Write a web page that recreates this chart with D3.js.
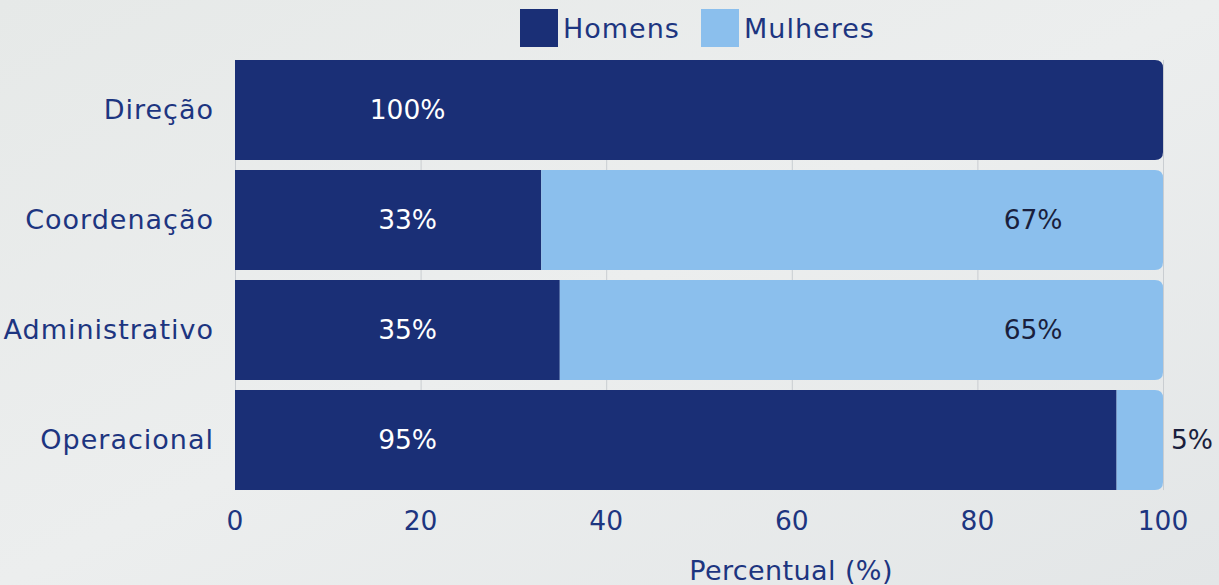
<!DOCTYPE html>
<html lang="pt">
  <head>
    <meta charset="utf-8">
    <title>Percentual por cargo</title>
    <style>
      body { margin: 0; }
      svg { display: block; font-family: "DejaVu Sans", sans-serif; }
    </style>
    <script src="https://d3js.org/d3.v7.min.js"></script>
  </head>
  <body>
    <div class="chart"></div>
    <script>
    const categories = ["Direção", "Coordenação", "Administrativo", "Operacional"]
    const homens = [100, 33, 35, 95]
    const mulheres = [0, 67, 65, 5]
    const series = ["Homens", "Mulheres"]
    const ticks = [0, 20, 40, 60, 80, 100]

    const W = 1219, H = 585
    const margin = { top: 55, left: 235, bottom: 90, right: 56 }
    const navy = "#1a2f76", light = "#8bbfed", textCol = "#1d3580"
    const fs = "27px", fsNum = "26.5px"

    const svg = d3.select(".chart")
      .append("svg")
      .attr("width", W)
      .attr("height", H)

    // background, roughly the marble look
    const defs = svg.append("defs")
    const bg = defs.append("linearGradient").attr("id", "bg")
      .attr("x1", 0).attr("y1", 0).attr("x2", 1).attr("y2", 1)
    bg.append("stop").attr("offset", 0).attr("stop-color", "#e6e9e8")
    bg.append("stop").attr("offset", 0.5).attr("stop-color", "#eceeee")
    bg.append("stop").attr("offset", 1).attr("stop-color", "#e3e6e7")
    svg.append("rect").attr("width", W).attr("height", H).attr("fill", "url(#bg)")

    const x = d3.scaleLinear()
      .domain([0, 100])
      .range([margin.left, W - margin.right])

    const y = d3.scaleBand()
      .domain(categories)
      .range([margin.top, H - margin.bottom])
      .paddingInner(0.09)
      .paddingOuter(0.045)

    // grid
    svg.append("g")
      .selectAll("line")
      .data(ticks)
      .join("line")
      .attr("x1", d => x(d) + 0.5)
      .attr("x2", d => x(d) + 0.5)
      .attr("y1", y(categories[0]))
      .attr("y2", y(categories[3]) + y.bandwidth())
      .attr("stroke", "#c9cdd1")
      .attr("stroke-width", 1)

    const rows = categories.map((c, i) => ({ cat: c, h: homens[i], m: mulheres[i] }))
    const r = 8

    // segment path with rounded right corners when it is the last one
    const seg = (x0, x1, y0, hgt, round) => {
      if (!round) return `M${x0},${y0}H${x1}V${y0 + hgt}H${x0}Z`
      return `M${x0},${y0}H${x1 - r}Q${x1},${y0} ${x1},${y0 + r}V${y0 + hgt - r}Q${x1},${y0 + hgt} ${x1 - r},${y0 + hgt}H${x0}Z`
    }

    svg.append("g")
      .selectAll("path")
      .data(rows)
      .join("path")
      .attr("d", d => seg(x(0), x(d.h), y(d.cat), y.bandwidth(), d.m === 0))
      .attr("fill", navy)

    svg.append("g")
      .selectAll("path")
      .data(rows.filter(d => d.m > 0))
      .join("path")
      .attr("d", d => seg(x(d.h), x(d.h + d.m), y(d.cat), y.bandwidth(), true))
      .attr("fill", light)

    // value labels
    svg.append("g")
      .selectAll("text")
      .data(rows)
      .join("text")
      .attr("x", x(18.6))
      .attr("y", d => y(d.cat) + y.bandwidth() / 2 + 9)
      .attr("text-anchor", "middle")
      .style("font-size", fsNum)
      .style("fill", "#ffffff")
      .text(d => d.h + "%")

    svg.append("g")
      .selectAll("text")
      .data(rows.filter(d => d.m > 0))
      .join("text")
      .attr("x", d => d.m < 10 ? x(100) + 8 : x(86))
      .attr("y", d => y(d.cat) + y.bandwidth() / 2 + 9)
      .attr("text-anchor", d => d.m < 10 ? "start" : "middle")
      .style("font-size", fsNum)
      .style("fill", "#1a1f3d")
      .text(d => d.m + "%")

    // category labels
    svg.append("g")
      .selectAll("text")
      .data(categories)
      .join("text")
      .attr("x", margin.left - 21)
      .attr("y", d => y(d) + y.bandwidth() / 2 + 9)
      .attr("text-anchor", "end")
      .style("font-size", fs)
      .style("letter-spacing", "1px")
      .style("fill", textCol)
      .text(d => d)

    // x axis ticks
    svg.append("g")
      .selectAll("text")
      .data(ticks)
      .join("text")
      .attr("x", d => x(d))
      .attr("y", 530)
      .attr("text-anchor", "middle")
      .style("font-size", fsNum)
      .style("fill", textCol)
      .text(d => d)

    svg.append("text")
      .attr("x", 791)
      .attr("y", 580)
      .attr("text-anchor", "middle")
      .style("font-size", fs)
      .style("letter-spacing", "0.4px")
      .style("fill", textCol)
      .text("Percentual (%)")

    // legend
    const legend = svg.append("g")
    const legX = [520, 701]
    series.forEach((s, i) => {
      legend.append("rect")
        .attr("x", legX[i]).attr("y", 9)
        .attr("width", 38).attr("height", 38)
        .attr("fill", i === 0 ? navy : light)
      legend.append("text")
        .attr("x", legX[i] + 43).attr("y", 38)
        .style("font-size", fs)
        .style("letter-spacing", "1px")
        .style("fill", textCol)
        .text(s)
    })
    </script>
  </body>
</html>
